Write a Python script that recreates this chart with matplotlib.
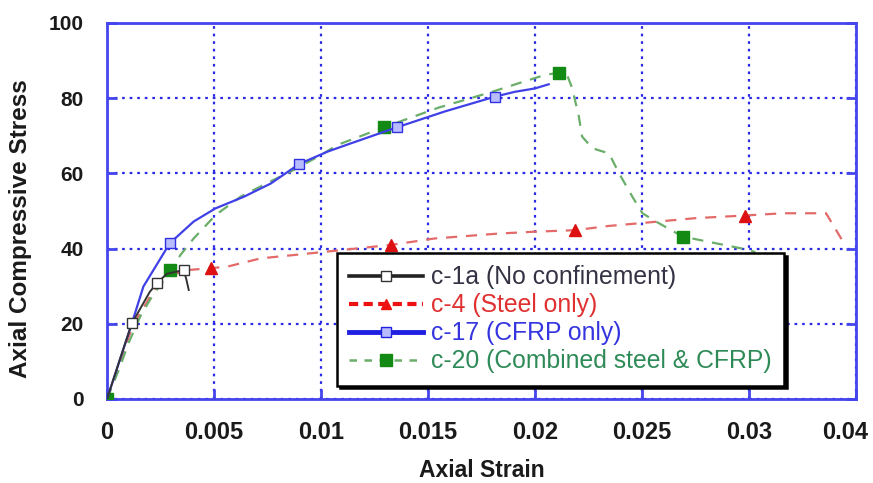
import matplotlib
matplotlib.use('Agg')
import matplotlib.pyplot as plt
import matplotlib.transforms as mtransforms
from matplotlib.lines import Line2D

plt.rcParams['font.family'] = ['Liberation Sans', 'DejaVu Sans']

# c-1a (No confinement)
x1 = [0, 0.0006, 0.00116, 0.0017, 0.0020, 0.00233, 0.0028, 0.00358, 0.0037, 0.00382]
y1 = [0, 10.5, 20.1, 25.5, 28.5, 30.8, 33.3, 34.3, 32.0, 29.0]

# c-4 (Steel only)
x4 = [0, 0.0012, 0.0022, 0.003, 0.0038, 0.00484, 0.00562, 0.00718, 0.00875, 0.0101,
      0.01329, 0.01532, 0.0183, 0.02, 0.02189, 0.0234, 0.025, 0.0275, 0.0298,
      0.0316, 0.0336, 0.0344]
y4 = [0, 19.5, 29.0, 33.0, 34.3, 34.8, 35.2, 37.4, 38.3, 39.1,
      41.0, 42.7, 44.0, 44.5, 44.9, 46.0, 46.8, 48.1, 48.8,
      49.4, 49.4, 41.8]

# c-17 (CFRP only)
x17 = [0, 0.00116, 0.0017, 0.00293, 0.00405, 0.00507, 0.0064, 0.00765, 0.00898,
       0.01031, 0.0113, 0.01357, 0.0158, 0.01812, 0.01906, 0.02, 0.02064]
y17 = [0, 20.1, 29.9, 41.4, 47.2, 50.7, 53.8, 57.3, 62.5,
       65.8, 67.8, 72.3, 76.5, 80.4, 81.7, 82.6, 83.7]

# c-20 (Combined steel & CFRP)
x20 = [0, 0.00061, 0.001, 0.00155, 0.002, 0.00249, 0.00296, 0.00343, 0.00405, 0.00507,
       0.00624, 0.00765, 0.00859, 0.01, 0.01078, 0.01296, 0.0155, 0.018, 0.01947,
       0.02047, 0.02114, 0.0215, 0.02174, 0.02205, 0.0222, 0.02268, 0.02346, 0.02393,
       0.02455, 0.02502, 0.02565, 0.0269, 0.02847, 0.02925, 0.03003, 0.0303]
y20 = [0, 8.6, 14.8, 21.9, 26.3, 30.3, 34.3, 38.3, 42.7, 48.9,
       53.8, 57.9, 60.5, 64.9, 67.6, 72.3, 77.5, 81.7, 84.4,
       86.2, 86.8, 86.2, 82.6, 75.1, 69.8, 66.7, 65.3, 60.0,
       53.8, 49.4, 47.2, 43.2, 41.4, 40.5, 39.6, 39.0]

labels = ['c-1a (No confinement)', 'c-4 (Steel only)', 'c-17 (CFRP only)',
          'c-20 (Combined steel & CFRP)']
xticks = [0, 0.005, 0.01, 0.015, 0.02, 0.025, 0.03, 0.035]
xticklabels = ['0', '0.005', '0.01', '0.015', '0.02', '0.025', '0.03', '0.04']
yticks = [0, 20, 40, 60, 80, 100]

axis_blue = '#4545ee'
grid_blue = '#2a2ae6'

fig = plt.figure(figsize=(8.73, 4.83), dpi=100)
ax = fig.add_axes([107 / 873, 1 - 399 / 483, 749 / 873, 376 / 483])

ax.plot(x4, y4, color='#e46a6a', lw=1.6, ls=(0, (5, 4)), zorder=3,
        marker='^', ms=8, mfc='#dd1111', mec='#dd1111', markevery=[5, 10, 14, 18])
ax.plot(x20, y20, color='#6aae6a', lw=1.6, ls=(0, (5, 4)), zorder=4,
        marker='s', ms=9, mfc='#138a13', mec='#138a13', markevery=[0, 6, 15, 20, 31])
ax.plot(x17, y17, color='#4040e8', lw=1.6, zorder=5,
        marker='s', ms=7, mfc='#b8bcff', mec='#3030e0', markevery=[3, 8, 11, 13])
ax.plot(x1, y1, color='#333333', lw=1.4, zorder=6,
        marker='s', ms=7, mfc='white', mec='#333333', markevery=[2, 5, 7])

ax.set_xlim(0, 0.035)
ax.set_ylim(0, 100)
ax.set_xticks(xticks)
ax.set_xticklabels(xticklabels)
ax.set_yticks(yticks)

ax.grid(True, color=grid_blue, lw=1.6, ls=(0, (1.2, 2.2)))
ax.set_axisbelow(True)
for s in ax.spines.values():
    s.set_color(axis_blue)
    s.set_linewidth(2)

ax.tick_params(axis='both', direction='in', color=axis_blue, length=7, width=2,
               labelcolor='#1a1a1a')
ax.tick_params(axis='y', right=True, pad=17, labelsize=15)
ax.tick_params(axis='x', pad=16, labelsize=17)
for t in ax.get_xticklabels() + ax.get_yticklabels():
    t.set_fontweight('bold')
# last label sits a bit left of the right edge, like the original
last = ax.get_xticklabels()[-1]
last.set_transform(last.get_transform() +
                   mtransforms.ScaledTranslation(-11 / 100, 0, fig.dpi_scale_trans))

ax.set_xlabel('Axial Strain', fontsize=16.5, fontweight='bold', color='#1a1a1a')
ax.set_ylabel('Axial Compressive Stress', fontsize=17.5, fontweight='bold', color='#1a1a1a')
ax.xaxis.set_label_coords(0.5, -0.16)
ax.yaxis.set_label_coords(-0.1, 0.452)

handles = [
    Line2D([], [], color='#222222', lw=2.6, marker='s', ms=7, mfc='white', mec='#333333'),
    Line2D([], [], color='#ee1111', lw=3, ls=(0, (2.2, 1.3)), marker='^', ms=7,
           mfc='#ee1111', mec='#ee1111'),
    Line2D([], [], color='#2020e0', lw=3.5, marker='s', ms=7, mfc='#b8bcff', mec='#2020e0'),
    Line2D([], [], color='#6aae6a', lw=1.8, ls=(0, (3, 3)), marker='s', ms=8,
           mfc='#138a13', mec='#138a13'),
]
leg = ax.legend(handles, labels, loc='upper left', bbox_to_anchor=(0.307, 0.388),
                borderaxespad=0, fontsize=17.8, numpoints=1, handlelength=3.0,
                handletextpad=0.3, labelspacing=0.16, borderpad=0.5,
                fancybox=False, framealpha=1, edgecolor='black',
                shadow={'color': 'black', 'alpha': 1})
leg.get_frame().set_linewidth(1.8)
leg.set_zorder(10)
for txt, c in zip(leg.get_texts(), ['#333344', '#e03030', '#3535e0', '#2e8b57']):
    txt.set_color(c)

fig.savefig('out.png', dpi=100)
